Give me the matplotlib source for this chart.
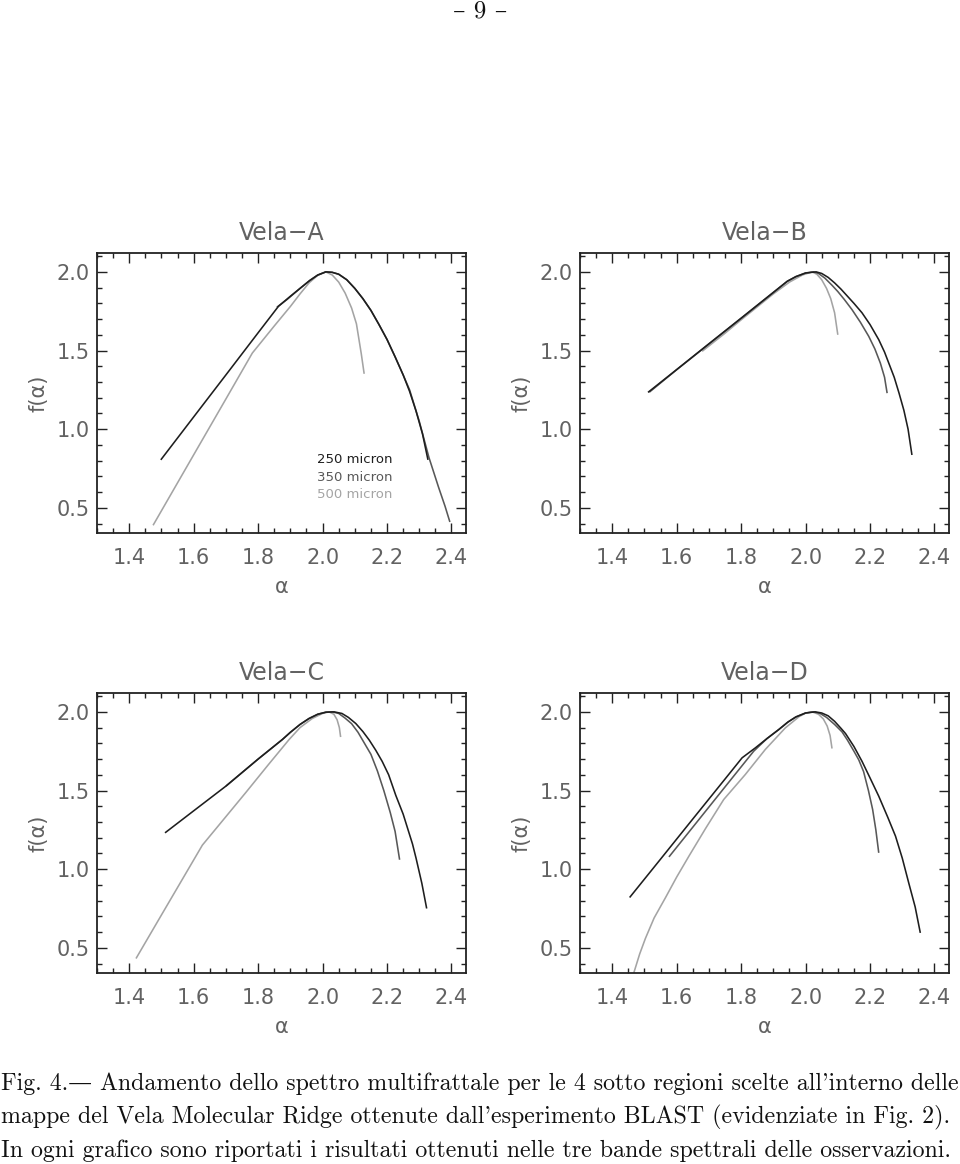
import matplotlib
matplotlib.use("Agg")
import matplotlib.pyplot as plt
from matplotlib.ticker import MultipleLocator

# ---------------- data ----------------
panels = ["Vela\u2212A", "Vela\u2212B", "Vela\u2212C", "Vela\u2212D"]
bands = ["250 micron", "350 micron", "500 micron"]

# Vela-A
a250_x = [1.498, 1.60, 1.70, 1.80, 1.863, 1.90, 1.93, 1.96, 1.985, 2.01, 2.03, 2.05, 2.075, 2.10, 2.125, 2.15, 2.175, 2.20, 2.225, 2.25, 2.27, 2.29, 2.31, 2.327]
a250_y = [0.805, 1.078, 1.345, 1.613, 1.781, 1.845, 1.895, 1.945, 1.98, 2.0, 1.997, 1.985, 1.95, 1.895, 1.83, 1.755, 1.665, 1.57, 1.46, 1.345, 1.24, 1.115, 0.97, 0.805]
a350_x = [1.858, 1.89, 1.93, 1.96, 1.985, 2.01, 2.03, 2.05, 2.075, 2.10, 2.125, 2.15, 2.175, 2.20, 2.225, 2.25, 2.27, 2.30, 2.33, 2.36, 2.38, 2.395]
a350_y = [1.775, 1.825, 1.895, 1.945, 1.98, 2.0, 1.997, 1.985, 1.95, 1.895, 1.83, 1.755, 1.665, 1.57, 1.46, 1.345, 1.25, 1.05, 0.82, 0.63, 0.51, 0.41]
a500_x = [1.474, 1.60, 1.70, 1.782, 1.85, 1.90, 1.93, 1.958, 1.985, 2.01, 2.03, 2.05, 2.07, 2.09, 2.105, 2.12, 2.129]
a500_y = [0.389, 0.837, 1.192, 1.484, 1.656, 1.78, 1.86, 1.93, 1.978, 2.0, 1.98, 1.935, 1.865, 1.77, 1.67, 1.48, 1.352]

# Vela-B
b250_x = [1.511, 1.60, 1.70, 1.80, 1.90, 1.943, 1.97, 2.0, 2.033, 2.05, 2.07, 2.09, 2.11, 2.13, 2.15, 2.175, 2.20, 2.227, 2.245, 2.26, 2.275, 2.29, 2.305, 2.318, 2.33]
b250_y = [1.234, 1.379, 1.543, 1.706, 1.87, 1.94, 1.97, 1.993, 2.0, 1.99, 1.965, 1.93, 1.89, 1.845, 1.80, 1.74, 1.665, 1.569, 1.49, 1.41, 1.33, 1.229, 1.12, 1.0, 0.836]
b350_x = [1.515, 1.60, 1.70, 1.80, 1.90, 1.943, 1.97, 2.0, 2.025, 2.04, 2.06, 2.082, 2.10, 2.12, 2.144, 2.17, 2.196, 2.215, 2.232, 2.245, 2.253]
b350_y = [1.235, 1.378, 1.541, 1.704, 1.868, 1.94, 1.97, 1.993, 2.0, 1.99, 1.96, 1.915, 1.875, 1.825, 1.76, 1.68, 1.59, 1.51, 1.42, 1.33, 1.229]
b500_x = [1.679, 1.75, 1.80, 1.90, 1.95, 1.99, 2.02, 2.035, 2.05, 2.065, 2.078, 2.09, 2.10]
b500_y = [1.495, 1.61, 1.695, 1.86, 1.935, 1.98, 2.0, 1.985, 1.95, 1.895, 1.83, 1.74, 1.60]

# Vela-C
c250_x = [1.511, 1.60, 1.70, 1.80, 1.875, 1.90, 1.93, 1.958, 1.985, 2.01, 2.036, 2.06, 2.08, 2.103, 2.125, 2.145, 2.165, 2.185, 2.205, 2.227, 2.25, 2.279, 2.29, 2.308, 2.323]
c250_y = [1.231, 1.371, 1.528, 1.70, 1.824, 1.87, 1.92, 1.958, 1.985, 1.998, 2.0, 1.99, 1.965, 1.926, 1.875, 1.82, 1.756, 1.685, 1.60, 1.47, 1.35, 1.16, 1.07, 0.91, 0.75]
c350_x = [1.70, 1.80, 1.875, 1.90, 1.93, 1.958, 1.985, 2.01, 2.03, 2.05, 2.07, 2.09, 2.11, 2.13, 2.15, 2.17, 2.19, 2.21, 2.225, 2.239]
c350_y = [1.528, 1.70, 1.824, 1.87, 1.92, 1.958, 1.985, 1.998, 2.0, 1.99, 1.96, 1.925, 1.87, 1.80, 1.73, 1.625, 1.50, 1.36, 1.24, 1.06]
c500_x = [1.421, 1.50, 1.627, 1.70, 1.762, 1.83, 1.896, 1.93, 1.968, 2.0, 2.02, 2.035, 2.045, 2.052, 2.056]
c500_y = [0.432, 0.709, 1.153, 1.334, 1.488, 1.66, 1.824, 1.90, 1.958, 1.99, 2.0, 1.985, 1.95, 1.90, 1.84]

# Vela-D
d250_x = [1.454, 1.55, 1.65, 1.75, 1.803, 1.844, 1.88, 1.917, 1.945, 1.97, 2.0, 2.03, 2.05, 2.07, 2.09, 2.11, 2.124, 2.15, 2.175, 2.20, 2.227, 2.255, 2.279, 2.30, 2.32, 2.34, 2.356]
d250_y = [0.82, 1.064, 1.319, 1.573, 1.708, 1.771, 1.83, 1.888, 1.935, 1.968, 1.993, 2.0, 1.993, 1.975, 1.94, 1.895, 1.862, 1.78, 1.686, 1.58, 1.464, 1.33, 1.21, 1.07, 0.913, 0.76, 0.595]
d350_x = [1.576, 1.65, 1.75, 1.839, 1.88, 1.917, 1.945, 1.97, 2.0, 2.025, 2.045, 2.065, 2.09, 2.113, 2.13, 2.15, 2.165, 2.18, 2.195, 2.208, 2.218, 2.227]
d350_y = [1.078, 1.267, 1.523, 1.75, 1.83, 1.888, 1.935, 1.968, 1.993, 2.0, 1.99, 1.965, 1.92, 1.873, 1.82, 1.75, 1.695, 1.62, 1.50, 1.38, 1.25, 1.104]
d500_x = [1.467, 1.485, 1.503, 1.53, 1.565, 1.60, 1.638, 1.69, 1.746, 1.813, 1.875, 1.937, 1.98, 2.0, 2.02, 2.04, 2.055, 2.067, 2.076, 2.082]
d500_y = [0.341, 0.46, 0.56, 0.69, 0.818, 0.95, 1.083, 1.26, 1.443, 1.602, 1.761, 1.898, 1.97, 1.992, 2.0, 1.985, 1.955, 1.91, 1.85, 1.767]

series = [
    [(a250_x, a250_y), (a350_x, a350_y), (a500_x, a500_y)],
    [(b250_x, b250_y), (b350_x, b350_y), (b500_x, b500_y)],
    [(c250_x, c250_y), (c350_x, c350_y), (c500_x, c500_y)],
    [(d250_x, d250_y), (d350_x, d350_y), (d500_x, d500_y)],
]

xticks = [1.4, 1.6, 1.8, 2.0, 2.2, 2.4]
yticks = [0.5, 1.0, 1.5, 2.0]

page_number = "\u2013 9 \u2013"
caption_lines = [
    "Fig. 4.\u2014 Andamento dello spettro multifrattale per le 4 sotto regioni scelte all'interno delle",
    "mappe del Vela Molecular Ridge ottenute dall'esperimento BLAST (evidenziate in Fig. 2).",
    "In ogni grafico sono riportati i risultati ottenuti nelle tre bande spettrali delle osservazioni.",
]

# ---------------- style ----------------
band_colors = ["#1e1e1e", "#585858", "#a4a4a4"]
band_z = [4, 3, 2]
text_color = "#626262"
W, H = 960, 1164
fig = plt.figure(figsize=(W / 100, H / 100), dpi=100)

# axes boxes in pixels: (left, top, right, bottom)
boxes = [(97, 253, 466, 533), (580, 253, 949, 533), (97, 693, 466, 973), (580, 693, 949, 973)]

for i, (l, t, r, b) in enumerate(boxes):
    ax = fig.add_axes([l / W, 1 - b / H, (r - l) / W, (b - t) / H])
    for j, (xs, ys) in enumerate(series[i]):
        ax.plot(xs, ys, color=band_colors[j], lw=1.15, zorder=band_z[j],
                solid_joinstyle="round", solid_capstyle="butt")
    ax.set_xlim(1.30, 2.445)
    ax.set_ylim(0.34, 2.12)
    ax.set_xticks(xticks)
    ax.set_yticks(yticks)
    ax.set_xticklabels([f"{v:.1f}" for v in xticks])
    ax.set_yticklabels([f"{v:.1f}" for v in yticks])
    ax.xaxis.set_minor_locator(MultipleLocator(0.05))
    ax.yaxis.set_minor_locator(MultipleLocator(0.1))
    ax.tick_params(which="both", direction="in", top=True, right=True,
                   colors="#222222", labelcolor=text_color, width=1.0)
    ax.tick_params(which="major", length=7.5, labelsize=15)
    ax.tick_params(axis="x", which="major", pad=11)
    ax.tick_params(axis="y", which="major", pad=5)
    ax.tick_params(which="minor", length=3.8)
    for s in ax.spines.values():
        s.set_linewidth(1.3)
        s.set_color("#222222")
    ax.set_xlabel("\u03b1", fontsize=15, color=text_color, labelpad=6)
    ax.set_ylabel("f(\u03b1)", fontsize=15, color=text_color, labelpad=6)
    ax.set_title(panels[i], fontsize=17, color=text_color, pad=9)
    if i == 0:
        for j, name in enumerate(bands):
            ax.text(1.982, 0.807 - j * 0.112, name, color=band_colors[j],
                    fontsize=9.5, va="center", ha="left")

# page number and caption
serif = ["cmr10", "DejaVu Serif"]
fig.text(0.5, 1 - 17 / H, page_number, ha="center", va="baseline",
         fontsize=18, family=serif, color="#111111")
baselines = [1090, 1123, 1157]
for line, yb in zip(caption_lines, baselines):
    fig.text(1 / W, 1 - yb / H, line, ha="left", va="baseline",
             fontsize=17.2, family=serif, color="#111111")

fig.savefig("out.png", dpi=100, facecolor="white")
